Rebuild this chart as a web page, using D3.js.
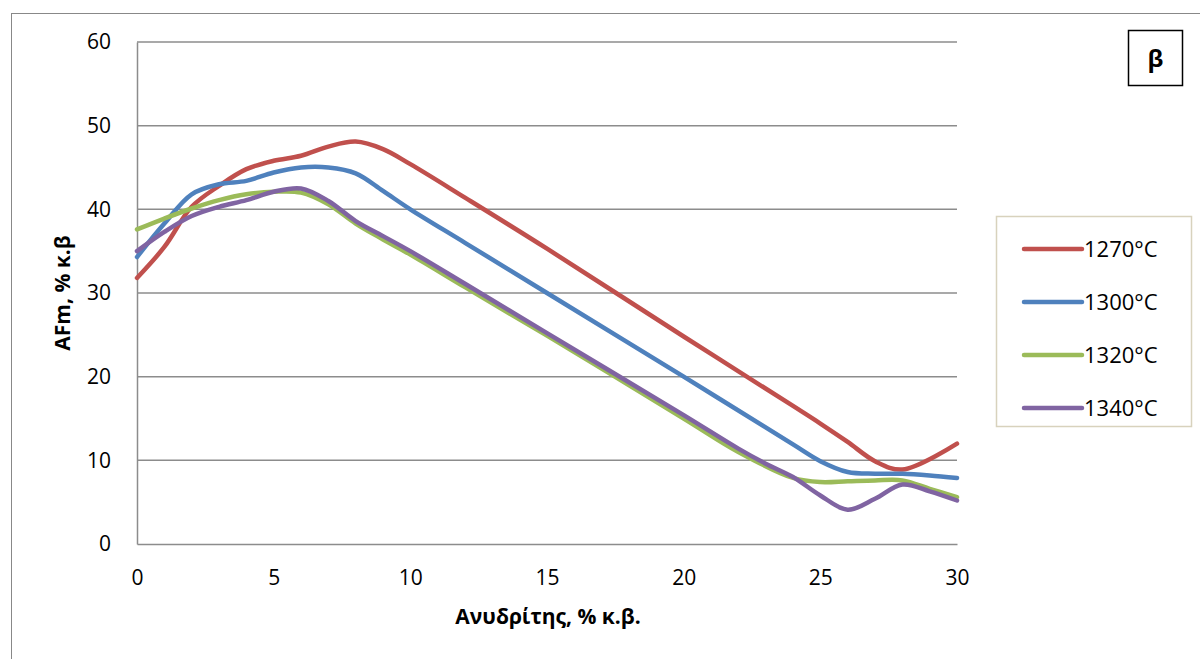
<!DOCTYPE html>
<html><head><meta charset="utf-8">
<script src="https://cdn.jsdelivr.net/npm/d3@7"></script>
<style>body{margin:0;background:#fff}svg{display:block}</style>
</head><body>
<script>
const xs1270 = [0,1,2,3,4,5,6,7,8,9,10,12,15,20,24,25,26,27,28,30];
const v1270  = [31.8,35.5,40.3,42.8,44.8,45.8,46.4,47.5,48.1,47.2,45.4,41.4,35.3,24.8,16.5,14.4,12.2,9.9,8.9,12.0];
const xs1300 = [0,1,2,3,4,5,6,7,8,9,10,12,15,20,24,25,26,27,28,29,30];
const v1300  = [34.3,38.3,41.8,43.0,43.4,44.4,45.0,45.0,44.3,42.2,40.0,36.0,30.0,20.0,11.9,9.9,8.6,8.4,8.4,8.2,7.9];
const xs1320 = [0,1,2,3,4,5,6,7,8,9,10,12,15,20,22,24,25,26,27,28,29,30];
const v1320  = [37.6,38.9,40.1,41.1,41.8,42.1,42.0,40.6,38.3,36.4,34.6,30.7,24.9,15.0,11.0,7.9,7.4,7.5,7.6,7.6,6.6,5.6];
const xs1340 = [0,1,2,3,4,5,6,7,8,9,10,12,15,20,22,23,24,25,26,27,28,29,30];
const v1340  = [35.0,37.3,39.2,40.3,41.1,42.1,42.5,41.0,38.6,36.8,35.0,31.1,25.2,15.4,11.4,9.6,8.0,5.8,4.1,5.4,7.1,6.3,5.2];
const seriesNames = ["1270°C","1300°C","1320°C","1340°C"];
const seriesColors = ["#C0504D","#4F81BD","#9BBB59","#8064A2"];
const xTicks = [0,5,10,15,20,25,30];
const yTicks = [0,10,20,30,40,50,60];
const xTitle = "Ανυδρίτης, % κ.β.";
const yTitle = "AFm, % κ.β";
const panelLabel = "β";

const series = [
  {name: seriesNames[0], color: seriesColors[0], xs: xs1270, vs: v1270},
  {name: seriesNames[1], color: seriesColors[1], xs: xs1300, vs: v1300},
  {name: seriesNames[2], color: seriesColors[2], xs: xs1320, vs: v1320},
  {name: seriesNames[3], color: seriesColors[3], xs: xs1340, vs: v1340}
];

const W = 1200, H = 659;
const svg = d3.select("body").append("svg").attr("width", W).attr("height", H);
const font = "'Open Sans', 'Noto Sans', sans-serif";

// outer chart border
svg.append("rect").attr("x", 11.5).attr("y", 13.5).attr("width", 1250).attr("height", 700)
  .attr("fill", "none").attr("stroke", "#888").attr("stroke-width", 1);

const L = 137, R = 957, T = 42, B = 544;
const x = d3.scaleLinear().domain([0, 30]).range([L, R]);
const y = d3.scaleLinear().domain([0, 60]).range([B, T]);

// gridlines
svg.append("g").selectAll("line").data(yTicks.filter(d => d > 0)).join("line")
  .attr("x1", L).attr("x2", R).attr("y1", d => y(d)).attr("y2", d => y(d))
  .attr("stroke", "#8c8c8c").attr("stroke-width", 1.5);

// axes
const yAxis = svg.append("g").attr("transform", `translate(${L},0)`)
  .call(d3.axisLeft(y).tickValues(yTicks).tickSize(0).tickPadding(26));
const xAxis = svg.append("g").attr("transform", `translate(0,${B})`)
  .call(d3.axisBottom(x).tickValues(xTicks).tickSize(0).tickPadding(26));
[yAxis, xAxis].forEach(a => {
  a.select(".domain").attr("stroke", "#8c8c8c").attr("stroke-width", 1.5);
  a.selectAll("text").attr("font-family", font).attr("font-size", 21).attr("fill", "#000");
});

// lines
const line = d3.line().x(d => x(d[0])).y(d => y(d[1])).curve(d3.curveCatmullRom.alpha(0.5));
svg.append("g").selectAll("path").data(series).join("path")
  .attr("d", s => line(s.xs.map((xv, i) => [xv, s.vs[i]])))
  .attr("fill", "none").attr("stroke", s => s.color).attr("stroke-width", 4.5)
  .attr("stroke-linecap", "round").attr("stroke-linejoin", "round");

// axis titles
svg.append("text").attr("x", 548).attr("y", 624).attr("text-anchor", "middle")
  .attr("font-family", font).attr("font-weight", "bold").attr("font-size", 21).text(xTitle);
svg.append("text").attr("transform", "translate(70,293) rotate(-90)").attr("text-anchor", "middle")
  .attr("font-family", font).attr("font-weight", "bold").attr("font-size", 21).text(yTitle);

// legend
const lg = svg.append("g");
lg.append("rect").attr("x", 996.5).attr("y", 216.5).attr("width", 195).attr("height", 210)
  .attr("fill", "#fff").attr("stroke", "#d8d2bd").attr("stroke-width", 1.5);
const items = lg.selectAll("g.item").data(series).join("g").attr("class", "item")
  .attr("transform", (d, i) => `translate(0,${249 + i * 53})`);
items.append("line").attr("x1", 1024).attr("x2", 1082).attr("y1", 0).attr("y2", 0)
  .attr("stroke", d => d.color).attr("stroke-width", 4.5).attr("stroke-linecap", "round");
items.append("text").attr("x", 1084).attr("y", 8).attr("font-family", font).attr("font-size", 22)
  .text(d => d.name);

// panel label box
svg.append("rect").attr("x", 1128.5).attr("y", 30.5).attr("width", 54).attr("height", 55)
  .attr("fill", "#fff").attr("stroke", "#000").attr("stroke-width", 1.5);
svg.append("text").attr("x", 1155.5).attr("y", 67).attr("text-anchor", "middle")
  .attr("font-family", font).attr("font-weight", "bold").attr("font-size", 24).text(panelLabel);
</script>
</body></html>
